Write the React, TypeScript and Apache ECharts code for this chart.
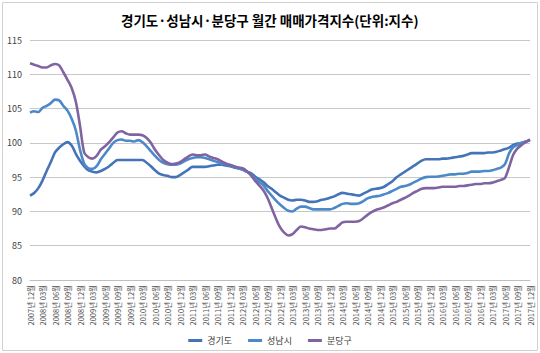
import React, { useEffect, useRef } from "react";
import * as echarts from "echarts";

const START_YEAR = 2007;
const START_MONTH = 12;
const MONTH_COUNT = 121;

const categories: string[] = [];
for (let k = 0; k < MONTH_COUNT; k++) {
  const m0 = START_MONTH - 1 + k;
  const y = START_YEAR + Math.floor(m0 / 12);
  const m = (m0 % 12) + 1;
  categories.push(`${y}년 ${m < 10 ? "0" + m : m}월`);
}

const seriesNames = ["경기도", "성남시", "분당구"];

const gyeonggi = [
  92.3, 92.7, 93.4, 94.5, 95.9, 97.2, 98.6, 99.3, 99.8, 100.1,
  99.6, 98.4, 97.4, 96.6, 96.0, 95.8, 95.7, 95.9, 96.2, 96.6,
  97.1, 97.5, 97.5, 97.5, 97.5, 97.5, 97.5, 97.5, 97.1, 96.6,
  96.0, 95.5, 95.3, 95.2, 95.0, 95.0, 95.3, 95.7, 96.1, 96.5,
  96.5, 96.5, 96.5, 96.6, 96.7, 96.8, 96.8, 96.7, 96.6, 96.4,
  96.3, 96.1, 95.8, 95.6, 95.1, 94.7, 94.3, 93.7, 93.3, 92.8,
  92.3, 92.0, 91.7, 91.6, 91.7, 91.7, 91.6, 91.4, 91.4, 91.5,
  91.7, 91.8, 92.0, 92.2, 92.5, 92.7, 92.6, 92.5, 92.4, 92.3,
  92.6, 92.9, 93.2, 93.3, 93.4, 93.6, 94.0, 94.4, 95.0, 95.4,
  95.8, 96.2, 96.6, 97.0, 97.4, 97.6, 97.6, 97.6, 97.6, 97.7,
  97.7, 97.8, 97.9, 98.0, 98.1, 98.3, 98.5, 98.5, 98.5, 98.5,
  98.6, 98.6, 98.7, 98.9, 99.1, 99.3, 99.7, 99.9, 100.0, 100.2,
  100.4,
];

const seongnam = [
  104.4, 104.6, 104.5, 105.1, 105.4, 105.8, 106.3, 106.2, 105.4, 104.7,
  103.5, 101.8, 99.0, 97.0, 96.3, 96.2, 96.6, 97.6, 98.4, 99.2,
  100.0, 100.4, 100.5, 100.3, 100.3, 100.2, 100.4, 100.1, 99.5, 98.8,
  98.1, 97.5, 97.1, 96.9, 96.8, 96.8, 97.0, 97.3, 97.6, 97.8,
  97.9, 97.9, 97.8, 97.6, 97.4, 97.2, 97.0, 96.9, 96.7, 96.5,
  96.3, 96.1, 95.8, 95.4, 94.8, 94.3, 93.8, 93.0, 92.3, 91.6,
  91.0, 90.5, 90.1, 90.0, 90.4, 90.7, 90.7, 90.5, 90.3, 90.3,
  90.3, 90.3, 90.3, 90.5, 90.8, 91.1, 91.2, 91.1, 91.1, 91.2,
  91.5, 91.9, 92.1, 92.2, 92.3, 92.5, 92.7, 93.0, 93.3, 93.6,
  93.7, 93.9, 94.2, 94.5, 94.8, 95.0, 95.05, 95.05, 95.1, 95.2,
  95.3, 95.4, 95.4, 95.5, 95.5, 95.6, 95.8, 95.8, 95.8, 95.9,
  95.9, 96.0, 96.2, 96.4, 96.9, 98.5, 99.4, 99.7, 100.0, 100.2,
  100.4,
];

const bundang = [
  111.6, 111.4, 111.2, 111.0, 111.0, 111.3, 111.5, 111.3, 110.3, 109.2,
  108.0, 106.0, 102.5, 98.6, 97.9, 97.7, 98.1, 99.0, 99.5, 100.1,
  100.8, 101.5, 101.7, 101.4, 101.2, 101.2, 101.2, 101.1, 100.7, 100.0,
  99.0, 98.2, 97.5, 97.1, 96.9, 97.0, 97.2, 97.6, 98.0, 98.3,
  98.2, 98.2, 98.3, 98.0, 97.8, 97.6, 97.3, 97.0, 96.8, 96.6,
  96.4, 96.3, 95.9, 95.3, 94.5, 93.8, 93.1, 92.0, 90.5, 89.0,
  87.7, 86.9, 86.5, 86.7, 87.3, 87.8, 87.7, 87.5, 87.4, 87.3,
  87.3, 87.4, 87.5, 87.5, 87.9, 88.4, 88.5, 88.5, 88.5, 88.6,
  89.0, 89.5, 89.9, 90.2, 90.4, 90.6, 90.9, 91.2, 91.4, 91.7,
  92.0, 92.3, 92.7, 93.0, 93.3, 93.4, 93.4, 93.4, 93.5, 93.6,
  93.6, 93.6, 93.6, 93.7, 93.7, 93.8, 93.9, 94.0, 94.0, 94.1,
  94.1, 94.2, 94.4, 94.6, 94.9, 96.5, 98.3, 99.2, 99.7, 100.1,
  100.5,
];

const yTicks = { min: 80, max: 115, interval: 5 };
const colors = ["#4473B8", "#4C89C8", "#8064A2"];
const FONT = "'Noto Sans CJK KR', 'Noto Sans', sans-serif";

export default function App() {
  const ref = useRef<HTMLDivElement>(null);
  useEffect(() => {
    if (!ref.current) return;
    const chart = echarts.init(ref.current, undefined, { renderer: "svg" });
    const data = [gyeonggi, seongnam, bundang];
    chart.setOption({
      animation: false,
      backgroundColor: "#ffffff",
      textStyle: { fontFamily: FONT },
      title: {
        text: "경기도·성남시·분당구 월간 매매가격지수(단위:지수)",
        left: 116,
        top: 8,
        textStyle: { fontSize: 13.5, fontWeight: "bold", color: "#000000", fontFamily: FONT },
      },
      graphic: [
        {
          type: "rect",
          shape: { x: 2.5, y: 2.5, width: 535, height: 348 },
          style: { fill: "none", stroke: "#D0D0D0", lineWidth: 1 },
          silent: true,
        },
      ],
      legend: {
        bottom: 3,
        left: "center",
        itemWidth: 14,
        itemHeight: 3,
        itemGap: 16,
        icon: "rect",
        textStyle: { fontSize: 9, color: "#404040", fontFamily: FONT },
        data: seriesNames,
      },
      grid: { left: 30, right: 10, top: 40, bottom: 73, containLabel: false },
      xAxis: {
        type: "category",
        data: categories,
        boundaryGap: false,
        axisLine: { lineStyle: { color: "#BFBFBF" } },
        axisTick: { show: false },
        axisLabel: {
          interval: 2,
          rotate: 90,
          fontSize: 7.5,
          color: "#505050",
          margin: 5,
          fontFamily: FONT,
        },
      },
      yAxis: {
        type: "value",
        min: yTicks.min,
        max: yTicks.max,
        interval: yTicks.interval,
        axisLine: { show: false },
        axisTick: { show: false },
        axisLabel: { fontSize: 9, color: "#404040", margin: 8, fontFamily: FONT },
        splitLine: { lineStyle: { color: "#C8C8C8" } },
      },
      series: seriesNames.map((name, k) => ({
        name,
        type: "line",
        data: data[k],
        showSymbol: false,
        smooth: 0.3,
        lineStyle: { width: 2.6, color: colors[k] },
        itemStyle: { color: colors[k] },
      })),
    });
    return () => chart.dispose();
  }, []);
  return <div ref={ref} style={{ width: 540, height: 353, position: "absolute", left: 0, top: 0 }} />;
}
